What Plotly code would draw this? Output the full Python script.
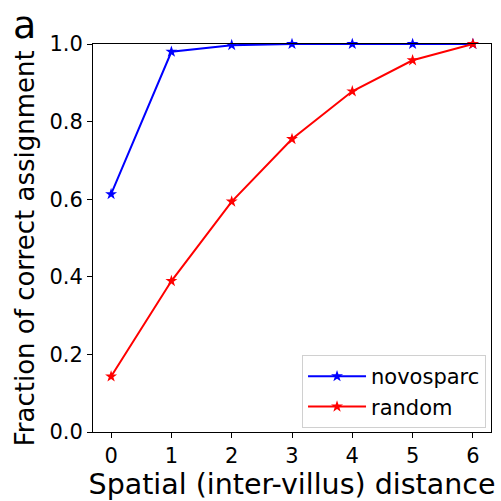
import plotly.graph_objects as go

# Spatial (inter-villus) distance and the fraction of cells assigned correctly
distance = [0, 1, 2, 3, 4, 5, 6]
novosparc = [0.613, 0.980, 0.997, 1.0, 1.0, 1.0, 1.0]
random_assign = [0.143, 0.389, 0.594, 0.755, 0.878, 0.958, 1.0]

y_ticks = [0.0, 0.2, 0.4, 0.6, 0.8, 1.0]
y_tick_text = ["0.0", "0.2", "0.4", "0.6", "0.8", "1.0"]

FONT = "DejaVu Sans"

fig = go.Figure()
fig.add_trace(go.Scatter(
    x=distance, y=novosparc, name="novosparc", mode="lines+markers",
    line=dict(color="#0000ff", width=2),
    marker=dict(symbol="star", size=9, color="#0000ff"),
    cliponaxis=False,
))
fig.add_trace(go.Scatter(
    x=distance, y=random_assign, name="random", mode="lines+markers",
    line=dict(color="#ff0000", width=2),
    marker=dict(symbol="star", size=9, color="#ff0000"),
    cliponaxis=False,
))

axis_common = dict(
    showgrid=False, zeroline=False, showline=True, linecolor="#000000",
    linewidth=1, mirror=True, ticks="outside", ticklen=5, tickwidth=1,
    tickcolor="#000000", tickfont=dict(family=FONT, size=21, color="#000000"),
)

fig.update_xaxes(
    range=[-0.3, 6.3], tickvals=distance, ticktext=[str(d) for d in distance],
    title=dict(text="Spatial (inter-villus) distance",
               font=dict(family=FONT, size=28.5, color="#000000"), standoff=4),
    **axis_common,
)
fig.update_yaxes(
    range=[0, 1.0], tickvals=y_ticks, ticktext=y_tick_text,
    **axis_common,
)

# Y-axis title drawn as a rotated annotation so it can sit slightly low
fig.add_annotation(
    text="Fraction of correct assignment", xref="paper", yref="paper",
    x=-0.17, y=0.4745, xanchor="center", yanchor="middle", textangle=-90,
    showarrow=False, font=dict(family=FONT, size=26, color="#000000"),
)

# Panel letter
fig.add_annotation(
    text="a", xref="paper", yref="paper", x=-0.205, y=0.986,
    xanchor="left", yanchor="bottom", showarrow=False,
    font=dict(family=FONT, size=38, color="#000000"),
)

fig.update_layout(
    width=501, height=501,
    margin=dict(l=93, r=9, t=44, b=65),
    paper_bgcolor="#ffffff", plot_bgcolor="#ffffff",
    font=dict(family=FONT, color="#000000"),
    legend=dict(
        x=0.9875, y=0.010, xanchor="right", yanchor="bottom",
        bgcolor="#ffffff", bordercolor="#d0d0d0", borderwidth=1,
        font=dict(family=FONT, size=21, color="#000000"),
        itemwidth=58, tracegroupgap=0,
    ),
    showlegend=True,
)

fig.write_html("out.html")
